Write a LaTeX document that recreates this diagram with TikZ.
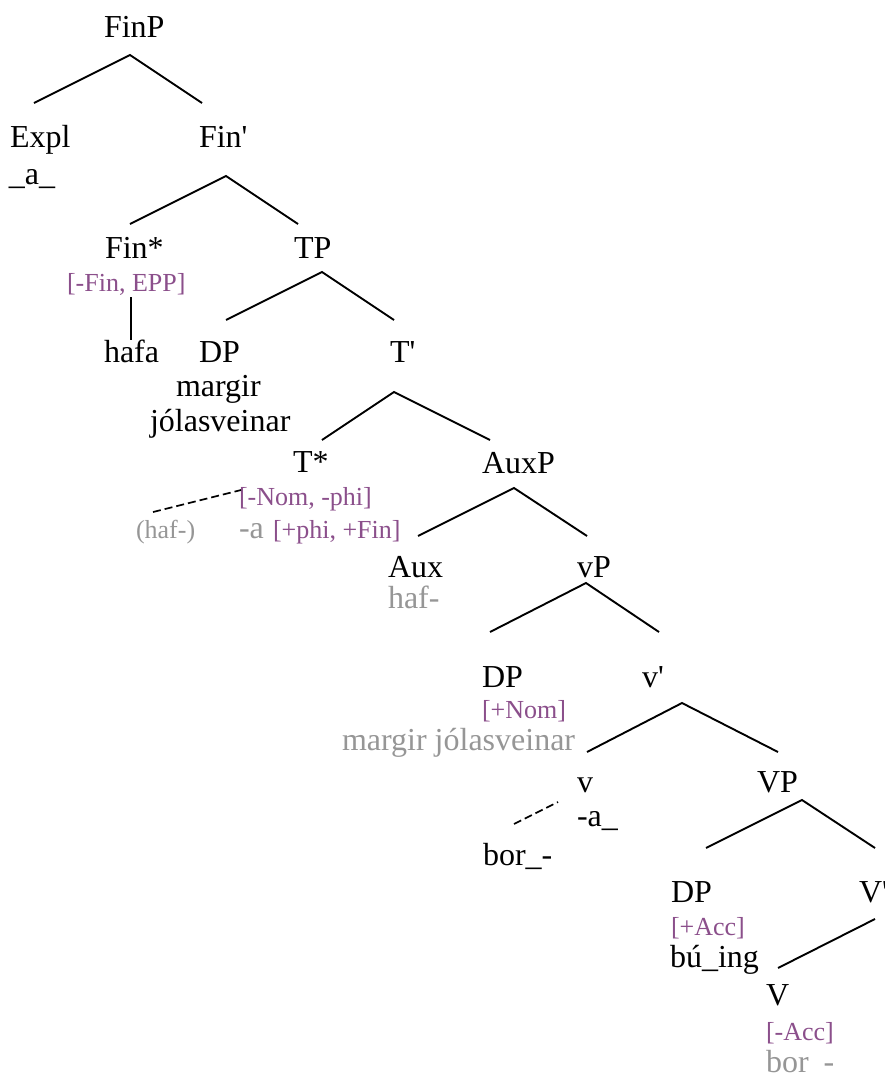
\documentclass[tikz,border=0pt]{standalone}
\usepackage{fontspec}
\setmainfont{Liberation Serif}
\definecolor{feat}{RGB}{139,79,139}
\definecolor{copyc}{RGB}{150,150,150}
\begin{document}
\begin{tikzpicture}[x=1pt,y=-1pt,
  lab/.style={anchor=base west,inner sep=0pt,outer sep=0pt,font=\fontsize{32}{32}\selectfont},
  ftr/.style={anchor=base west,inner sep=0pt,outer sep=0pt,text=feat,font=\fontsize{26}{26}\selectfont},
  cpy/.style={anchor=base west,inner sep=0pt,outer sep=0pt,text=copyc,font=\fontsize{32}{32}\selectfont},
  cpys/.style={anchor=base west,inner sep=0pt,outer sep=0pt,text=copyc,font=\fontsize{26}{26}\selectfont},
  branch/.style={line width=1.9pt},
  movel/.style={line width=1.7pt,dash pattern=on 8pt off 4pt}]
\clip (0,0) rectangle (884,1079);
% nodes
\node[lab] (FinP) at (104,37) {FinP};
\node[lab] (Expl) at (10,147) {Expl};
\node[lab] (Expla) at (9,184) {\_a\_};
\node[lab] (Finbar) at (199,147) {Fin\textquotesingle};
\node[lab] (Finst) at (105,258) {Fin*};
\node[ftr] (Finf) at (67,291) {[-Fin, EPP]};
\node[lab] (hafa) at (104,362) {hafa};
\node[lab] (TP) at (294,258) {TP};
\node[lab] (DPa) at (199,362) {DP};
\node[lab] (DPa1) at (176,396) {margir};
\node[lab] (DPa2) at (150,431) {jólasveinar};
\node[lab] (Tbar) at (390,362) {T\textquotesingle};
\node[lab] (Tst) at (293,472) {T*};
\node[ftr] (Tf1) at (239,505) {[-Nom, -phi]};
\node[cpys] (hafc) at (136,538) {(haf-)};
\node[cpy] (Ta) at (239,538) {-a};
\node[ftr] (Tf2) at (273,538) {[+phi, +Fin]};
\node[lab] (AuxP) at (482,473) {AuxP};
\node[lab] (Aux) at (388,577) {Aux};
\node[cpy] (Auxh) at (388,608) {haf-};
\node[lab] (vP) at (577,577) {vP};
\node[lab] (DPb) at (482,687) {DP};
\node[ftr] (DPbf) at (482,718) {[+Nom]};
\node[cpy] (DPbc) at (342,750) {margir jólasveinar};
\node[lab] (vbar) at (642,687) {v\textquotesingle};
\node[lab] (v) at (577,792) {v};
\node[lab] (va) at (577,826) {-a\_};
\node[lab] (bor) at (483,865) {bor\_-};
\node[lab] (VP) at (757,792) {VP};
\node[lab] (DPc) at (671,902) {DP};
\node[ftr] (DPcf) at (671,935) {[+Acc]};
\node[lab] (buing) at (670,967) {bú\_ing};
\node[lab] (Vbar) at (859,902) {V\textquotesingle};
\node[lab] (V) at (766,1005) {V};
\node[ftr] (Vf) at (766,1040) {[-Acc]};
\node[cpy] (Vc) at (766,1072) {bor\hspace{15pt}-};
% branch points
\coordinate (FinP-a) at (130,55);  \coordinate (FinP-l) at (34,103);  \coordinate (FinP-r) at (202,103);
\coordinate (Finbar-a) at (226,176); \coordinate (Finbar-l) at (130,224); \coordinate (Finbar-r) at (298,224);
\coordinate (Finst-a) at (131,297); \coordinate (Finst-b) at (131,340);
\coordinate (TP-a) at (322,272); \coordinate (TP-l) at (226,320); \coordinate (TP-r) at (394,320);
\coordinate (Tbar-a) at (394,392); \coordinate (Tbar-l) at (322,440); \coordinate (Tbar-r) at (490,440);
\coordinate (AuxP-a) at (514,488); \coordinate (AuxP-l) at (418,536); \coordinate (AuxP-r) at (587,536);
\coordinate (vP-a) at (586,583); \coordinate (vP-l) at (490,632); \coordinate (vP-r) at (659,632);
\coordinate (vbar-a) at (682,703); \coordinate (vbar-l) at (587,752); \coordinate (vbar-r) at (778,752);
\coordinate (VP-a) at (802,800); \coordinate (VP-l) at (706,848); \coordinate (VP-r) at (875,848);
\coordinate (Vbar-a) at (875,919); \coordinate (Vbar-l) at (778,968);
\coordinate (m1a) at (153,512); \coordinate (m1b) at (241,490);
\coordinate (m2a) at (514,824); \coordinate (m2b) at (558,802);
% branches
\draw[branch] (FinP-l) -- (FinP-a) -- (FinP-r);
\draw[branch] (Finbar-l) -- (Finbar-a) -- (Finbar-r);
\draw[branch] (Finst-a) -- (Finst-b);
\draw[branch] (TP-l) -- (TP-a) -- (TP-r);
\draw[branch] (Tbar-l) -- (Tbar-a) -- (Tbar-r);
\draw[branch] (AuxP-l) -- (AuxP-a) -- (AuxP-r);
\draw[branch] (vP-l) -- (vP-a) -- (vP-r);
\draw[branch] (vbar-l) -- (vbar-a) -- (vbar-r);
\draw[branch] (VP-l) -- (VP-a) -- (VP-r);
\draw[branch] (Vbar-a) -- (Vbar-l);
\draw[movel] (m1a) -- (m1b);
\draw[movel] (m2a) -- (m2b);
\end{tikzpicture}
\end{document}
